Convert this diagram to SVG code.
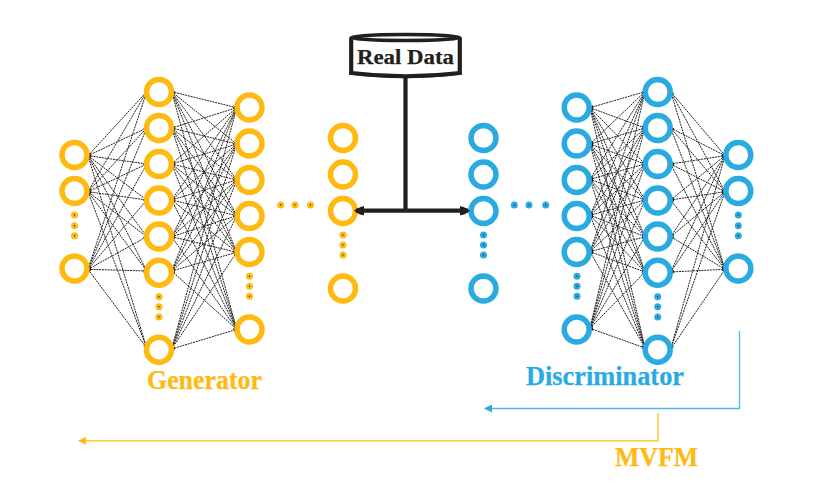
<svg xmlns="http://www.w3.org/2000/svg" width="819" height="502" viewBox="0 0 819 502">
<style>
.g{fill:none;stroke:#ffba12;stroke-width:5.500}
.b{fill:none;stroke:#29abe2;stroke-width:5.500}
.dg{fill:#ffba12}.db{fill:#29abe2}
.c{fill:#231f20}
#edges path{fill:none;stroke:#231f20;stroke-width:1;stroke-dasharray:2 .8;marker-start:url(#h);marker-end:url(#h)}
text{font-family:"Liberation Serif","Times New Roman",serif;font-weight:bold}
</style>
<defs>
<marker id="h" viewBox="0 0 6 6" refX="5.500" refY="3" markerWidth="3.500" markerHeight="3.500" markerUnits="userSpaceOnUse" orient="auto-start-reverse"><path d="M0 0L6 3L0 6z" fill="#231f20"/></marker>
<marker id="hb" viewBox="0 0 8 8" refX="7" refY="4" markerWidth="8" markerHeight="8" markerUnits="userSpaceOnUse" orient="auto"><path d="M0 0L8 4L0 8z" fill="#29abe2"/></marker>
<marker id="hg" viewBox="0 0 8 8" refX="7" refY="4" markerWidth="8" markerHeight="8" markerUnits="userSpaceOnUse" orient="auto"><path d="M0 0L8 4L0 8z" fill="#ffba12"/></marker>
<marker id="ht" viewBox="0 0 10 10" refX="8" refY="5" markerWidth="10" markerHeight="10" markerUnits="userSpaceOnUse" orient="auto-start-reverse"><path d="M0 .5Q4 .5 10 5Q4 9.500 0 9.500z" fill="#231f20"/></marker>
</defs>
<g id="edges">
<path d="M88 155.700L146.700 91.700"/><path d="M88 155.700L146.700 128"/><path d="M88 155.700L146.700 164"/><path d="M88 155.700L146.700 200"/><path d="M88 155.700L146.700 236.700"/><path d="M88 155.700L146.700 271"/><path d="M88 155.700L146.700 348"/>
<path d="M88 191.700L146.700 91.700"/><path d="M88 191.700L146.700 128"/><path d="M88 191.700L146.700 164"/><path d="M88 191.700L146.700 200"/><path d="M88 191.700L146.700 236.700"/><path d="M88 191.700L146.700 271"/><path d="M88 191.700L146.700 348"/>
<path d="M88 269.300L146.700 91.700"/><path d="M88 269.300L146.700 128"/><path d="M88 269.300L146.700 164"/><path d="M88 269.300L146.700 200"/><path d="M88 269.300L146.700 236.700"/><path d="M88 269.300L146.700 271"/><path d="M88 269.300L146.700 348"/>
<path d="M171.700 91.700L236.700 107.700"/><path d="M171.700 91.700L236.700 144"/><path d="M171.700 91.700L236.700 180"/><path d="M171.700 91.700L236.700 215.700"/><path d="M171.700 91.700L236.700 252.300"/><path d="M171.700 91.700L236.700 329.300"/>
<path d="M171.700 128L236.700 107.700"/><path d="M171.700 128L236.700 144"/><path d="M171.700 128L236.700 180"/><path d="M171.700 128L236.700 215.700"/><path d="M171.700 128L236.700 252.300"/><path d="M171.700 128L236.700 329.300"/>
<path d="M171.700 164L236.700 107.700"/><path d="M171.700 164L236.700 144"/><path d="M171.700 164L236.700 180"/><path d="M171.700 164L236.700 215.700"/><path d="M171.700 164L236.700 252.300"/><path d="M171.700 164L236.700 329.300"/>
<path d="M171.700 200L236.700 107.700"/><path d="M171.700 200L236.700 144"/><path d="M171.700 200L236.700 180"/><path d="M171.700 200L236.700 215.700"/><path d="M171.700 200L236.700 252.300"/><path d="M171.700 200L236.700 329.300"/>
<path d="M171.700 236.700L236.700 107.700"/><path d="M171.700 236.700L236.700 144"/><path d="M171.700 236.700L236.700 180"/><path d="M171.700 236.700L236.700 215.700"/><path d="M171.700 236.700L236.700 252.300"/><path d="M171.700 236.700L236.700 329.300"/>
<path d="M171.700 271L236.700 107.700"/><path d="M171.700 271L236.700 144"/><path d="M171.700 271L236.700 180"/><path d="M171.700 271L236.700 215.700"/><path d="M171.700 271L236.700 252.300"/><path d="M171.700 271L236.700 329.300"/>
<path d="M171.700 349L236.700 107.700"/><path d="M171.700 349L236.700 144"/><path d="M171.700 349L236.700 180"/><path d="M171.700 349L236.700 215.700"/><path d="M171.700 349L236.700 252.300"/><path d="M171.700 349L236.700 329.300"/>
<path d="M590 107.700L645 91.700"/><path d="M590 107.700L645 128"/><path d="M590 107.700L645 164"/><path d="M590 107.700L645 200"/><path d="M590 107.700L645 236.700"/><path d="M590 107.700L645 272"/><path d="M590 107.700L645 348"/>
<path d="M590 144L645 91.700"/><path d="M590 144L645 128"/><path d="M590 144L645 164"/><path d="M590 144L645 200"/><path d="M590 144L645 236.700"/><path d="M590 144L645 272"/><path d="M590 144L645 348"/>
<path d="M590 179.300L645 91.700"/><path d="M590 179.300L645 128"/><path d="M590 179.300L645 164"/><path d="M590 179.300L645 200"/><path d="M590 179.300L645 236.700"/><path d="M590 179.300L645 272"/><path d="M590 179.300L645 348"/>
<path d="M590 215.300L645 91.700"/><path d="M590 215.300L645 128"/><path d="M590 215.300L645 164"/><path d="M590 215.300L645 200"/><path d="M590 215.300L645 236.700"/><path d="M590 215.300L645 272"/><path d="M590 215.300L645 348"/>
<path d="M590 251.700L645 91.700"/><path d="M590 251.700L645 128"/><path d="M590 251.700L645 164"/><path d="M590 251.700L645 200"/><path d="M590 251.700L645 236.700"/><path d="M590 251.700L645 272"/><path d="M590 251.700L645 348"/>
<path d="M590 328.300L645 91.700"/><path d="M590 328.300L645 128"/><path d="M590 328.300L645 164"/><path d="M590 328.300L645 200"/><path d="M590 328.300L645 236.700"/><path d="M590 328.300L645 272"/><path d="M590 328.300L645 348"/>
<path d="M670.700 91.700L725 155.700"/><path d="M670.700 91.700L725 191.700"/><path d="M670.700 91.700L725 269.300"/>
<path d="M670.700 128L725 155.700"/><path d="M670.700 128L725 191.700"/><path d="M670.700 128L725 269.300"/>
<path d="M670.700 164L725 155.700"/><path d="M670.700 164L725 191.700"/><path d="M670.700 164L725 269.300"/>
<path d="M670.700 200L725 155.700"/><path d="M670.700 200L725 191.700"/><path d="M670.700 200L725 269.300"/>
<path d="M670.700 236.700L725 155.700"/><path d="M670.700 236.700L725 191.700"/><path d="M670.700 236.700L725 269.300"/>
<path d="M670.700 272L725 155.700"/><path d="M670.700 272L725 191.700"/><path d="M670.700 272L725 269.300"/>
<path d="M670.700 349L725 155.700"/><path d="M670.700 349L725 191.700"/><path d="M670.700 349L725 269.300"/>
</g>
<g id="generator-nodes">
<circle class="g" cx="74.500" cy="155" r="12.500"/><circle class="g" cx="74.500" cy="191" r="12.500"/><circle class="g" cx="74.500" cy="268.500" r="12.500"/>
<circle class="g" cx="159" cy="92" r="12.500"/><circle class="g" cx="159" cy="128" r="12.500"/><circle class="g" cx="159" cy="164" r="12.500"/><circle class="g" cx="159" cy="200.500" r="12.500"/><circle class="g" cx="159" cy="236.500" r="12.500"/><circle class="g" cx="159" cy="272.700" r="12.500"/><circle class="g" cx="159" cy="349.700" r="12.500"/>
<circle class="g" cx="249.500" cy="107.500" r="12.500"/><circle class="g" cx="249.500" cy="143.500" r="12.500"/><circle class="g" cx="249.500" cy="180" r="12.500"/><circle class="g" cx="249.500" cy="216" r="12.500"/><circle class="g" cx="249.500" cy="252" r="12.500"/><circle class="g" cx="249.500" cy="329.500" r="12.500"/>
<circle class="g" cx="343" cy="138" r="12.500"/><circle class="g" cx="343" cy="174.500" r="12.500"/><circle class="g" cx="343" cy="211" r="12.500"/><circle class="g" cx="343" cy="288.500" r="12.500"/>
</g>
<g id="discriminator-nodes">
<circle class="b" cx="483.500" cy="138" r="12.500"/><circle class="b" cx="483.500" cy="174.500" r="12.500"/><circle class="b" cx="483.500" cy="211" r="12.500"/><circle class="b" cx="483.500" cy="288.500" r="12.500"/>
<circle class="b" cx="576.700" cy="107.500" r="12.500"/><circle class="b" cx="576.700" cy="143.500" r="12.500"/><circle class="b" cx="576.700" cy="180" r="12.500"/><circle class="b" cx="576.700" cy="216" r="12.500"/><circle class="b" cx="576.700" cy="252" r="12.500"/><circle class="b" cx="576.700" cy="329.500" r="12.500"/>
<circle class="b" cx="657.700" cy="92" r="12.500"/><circle class="b" cx="657.700" cy="128" r="12.500"/><circle class="b" cx="657.700" cy="164" r="12.500"/><circle class="b" cx="657.700" cy="200.500" r="12.500"/><circle class="b" cx="657.700" cy="236.500" r="12.500"/><circle class="b" cx="657.700" cy="272.700" r="12.500"/><circle class="b" cx="657.700" cy="349.700" r="12.500"/>
<circle class="b" cx="738.300" cy="155" r="12.500"/><circle class="b" cx="738.300" cy="191" r="12.500"/><circle class="b" cx="738.300" cy="268.500" r="12.500"/>
</g>
<g id="generator-dots">
<g class="dg"><circle cx="74.500" cy="215" r="3.500"/><circle cx="74.500" cy="225.700" r="3.500"/><circle cx="74.500" cy="235.700" r="3.500"/><circle cx="159" cy="296.700" r="3.500"/><circle cx="159" cy="306.700" r="3.500"/><circle cx="159" cy="317" r="3.500"/><circle cx="249.500" cy="276.300" r="3.500"/><circle cx="249.500" cy="286.300" r="3.500"/><circle cx="249.500" cy="296.300" r="3.500"/><circle cx="280.700" cy="205" r="3.500"/><circle cx="295" cy="205" r="3.500"/><circle cx="310.500" cy="205" r="3.500"/><circle cx="343" cy="235" r="3.500"/><circle cx="343" cy="245" r="3.500"/><circle cx="343" cy="255" r="3.500"/></g>
<g class="c"><circle cx="74.500" cy="215" r=".7"/><circle cx="74.500" cy="225.700" r=".7"/><circle cx="74.500" cy="235.700" r=".7"/><circle cx="159" cy="296.700" r=".7"/><circle cx="159" cy="306.700" r=".7"/><circle cx="159" cy="317" r=".7"/><circle cx="249.500" cy="276.300" r=".7"/><circle cx="249.500" cy="286.300" r=".7"/><circle cx="249.500" cy="296.300" r=".7"/><circle cx="280.700" cy="205" r=".7"/><circle cx="295" cy="205" r=".7"/><circle cx="310.500" cy="205" r=".7"/><circle cx="343" cy="235" r=".7"/><circle cx="343" cy="245" r=".7"/><circle cx="343" cy="255" r=".7"/></g>
</g>
<g id="discriminator-dots">
<g class="db"><circle cx="483.500" cy="235" r="3.500"/><circle cx="483.500" cy="245" r="3.500"/><circle cx="483.500" cy="255" r="3.500"/><circle cx="514.300" cy="205" r="3.500"/><circle cx="529" cy="205" r="3.500"/><circle cx="545.700" cy="205" r="3.500"/><circle cx="577" cy="276.300" r="3.500"/><circle cx="577" cy="286.300" r="3.500"/><circle cx="577" cy="296.300" r="3.500"/><circle cx="657.700" cy="296.700" r="3.500"/><circle cx="657.700" cy="306.700" r="3.500"/><circle cx="657.700" cy="317" r="3.500"/><circle cx="738.300" cy="215" r="3.500"/><circle cx="738.300" cy="225.700" r="3.500"/><circle cx="738.300" cy="235.700" r="3.500"/></g>
<g class="c"><circle cx="483.500" cy="235" r=".7"/><circle cx="483.500" cy="245" r=".7"/><circle cx="483.500" cy="255" r=".7"/><circle cx="514.300" cy="205" r=".7"/><circle cx="529" cy="205" r=".7"/><circle cx="545.700" cy="205" r=".7"/><circle cx="577" cy="276.300" r=".7"/><circle cx="577" cy="286.300" r=".7"/><circle cx="577" cy="296.300" r=".7"/><circle cx="657.700" cy="296.700" r=".7"/><circle cx="657.700" cy="306.700" r=".7"/><circle cx="657.700" cy="317" r=".7"/><circle cx="738.300" cy="215" r=".7"/><circle cx="738.300" cy="225.700" r=".7"/><circle cx="738.300" cy="235.700" r=".7"/></g>
</g>
<g id="real-data">
<path d="M405.500 78V211" fill="none" stroke="#231f20" stroke-width="4.200"/>
<path d="M351.200 38V73Q405.500 79.500 459.800 73V38" fill="#fff" stroke="#231f20" stroke-width="4.200"/>
<path d="M349.500 72Q405.500 78 461.500 72V74.500Q405.500 82 349.500 74.500z" fill="#231f20"/>
<ellipse cx="405.500" cy="37.500" rx="54.500" ry="3" fill="#fff" stroke="#231f20" stroke-width="3.600"/>
<text x="405.500" y="63.500" font-size="22" text-anchor="middle" fill="#231f20" stroke="#231f20" stroke-width=".25" textLength="97" lengthAdjust="spacingAndGlyphs">Real Data</text>
</g>
<g id="data-feed">
<path d="M356 210.700H468" fill="none" stroke="#231f20" stroke-width="4.200" marker-start="url(#ht)" marker-end="url(#ht)"/>
</g>
<g id="feedback">
<path d="M739.500 331V408.500H485" fill="none" stroke="#4db9e8" stroke-width="1.300" marker-end="url(#hb)"/>
<path d="M658 413V440.800H79" fill="none" stroke="#ffba12" stroke-width="1.300" marker-end="url(#hg)"/>
</g>
<text x="147" y="389" font-size="27" fill="#ffba12" stroke="#ffba12" stroke-width=".25" textLength="115" lengthAdjust="spacingAndGlyphs">Generator</text>
<text x="526" y="385" font-size="27" fill="#29abe2" stroke="#29abe2" stroke-width=".25" textLength="158" lengthAdjust="spacingAndGlyphs">Discriminator</text>
<text x="615" y="466" font-size="27" fill="#ffba12" stroke="#ffba12" stroke-width=".25" textLength="83" lengthAdjust="spacingAndGlyphs">MVFM</text>
</svg>
